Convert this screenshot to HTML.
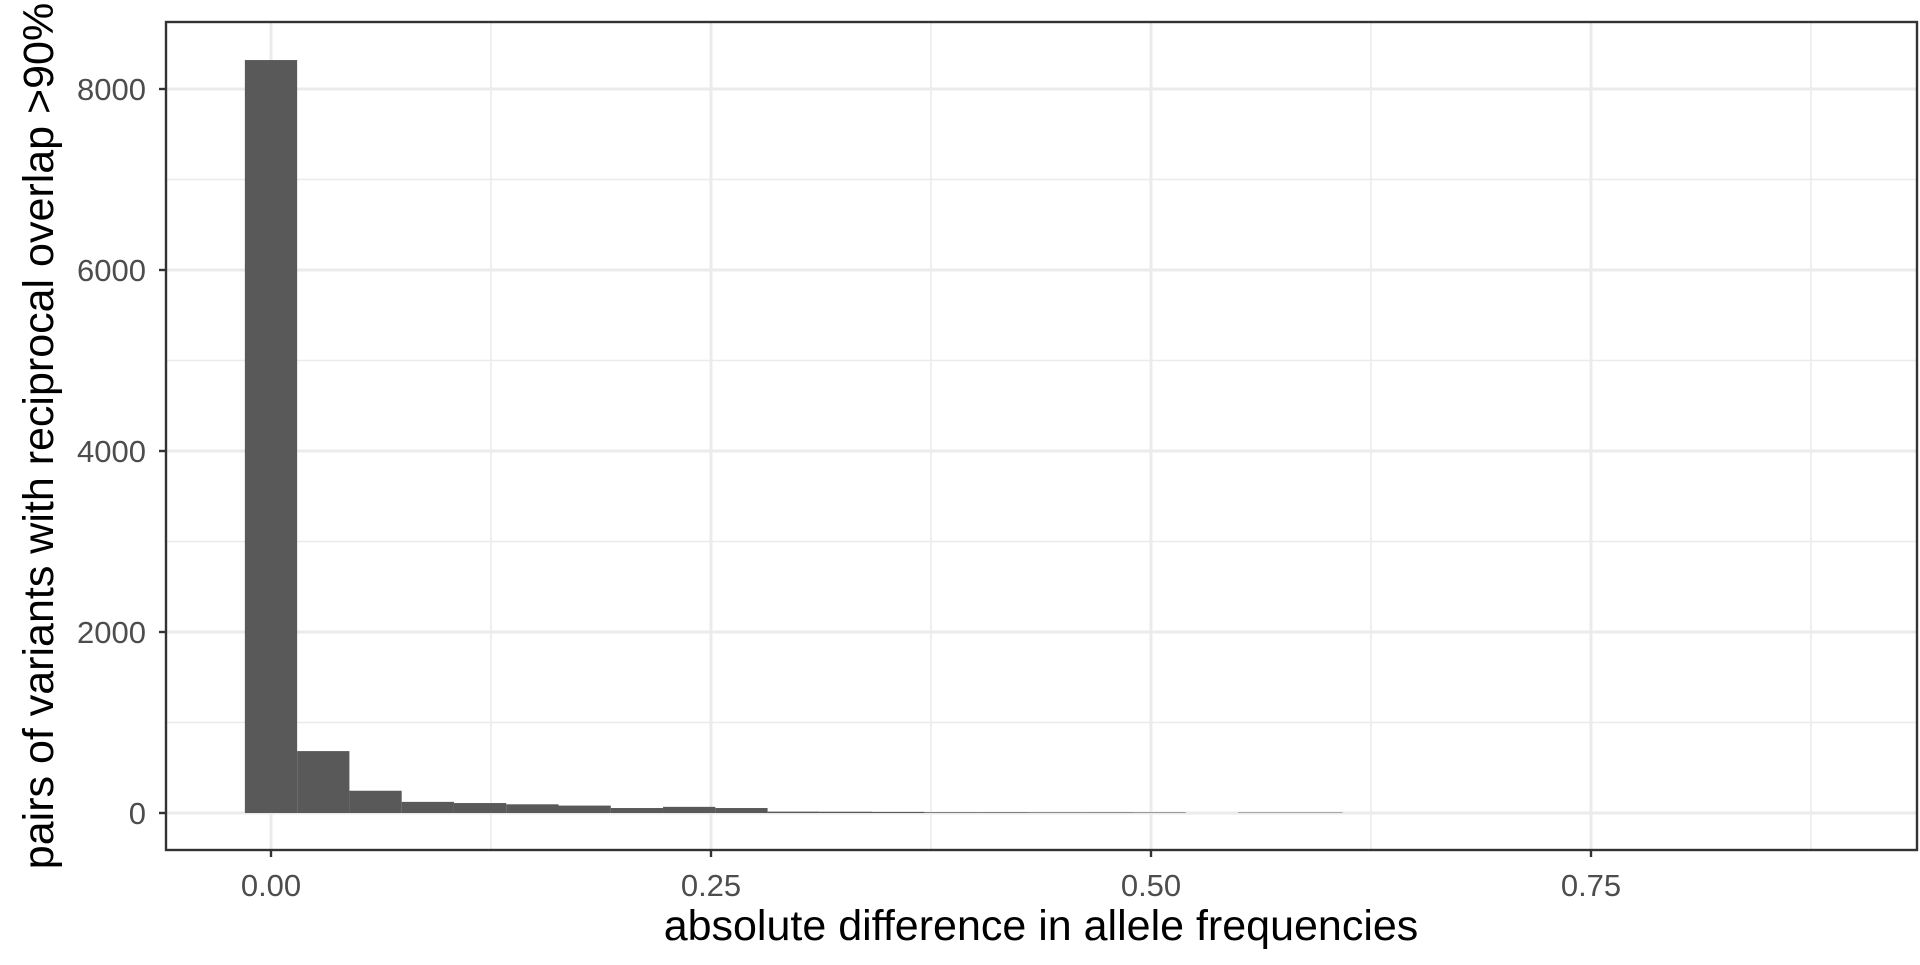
<!DOCTYPE html>
<html><head><meta charset="utf-8"><style>
html,body{margin:0;padding:0;background:#fff;}
svg text{font-family:"Liberation Sans",Arial,sans-serif;}
</style></head><body>
<svg id="chart" width="1920" height="960" viewBox="0 0 1920 960" xmlns="http://www.w3.org/2000/svg">
<g id="grid"></g><g id="bars"></g><g id="axes"></g>
<text x="1041" y="940" font-size="43" text-anchor="middle" fill="#000">absolute difference in allele frequencies</text>
<text transform="translate(53,436) rotate(-90)" font-size="43" text-anchor="middle" fill="#000">pairs of variants with reciprocal overlap &gt;90%</text>
</svg>
<script>
const binCenters = [0,0.0297,0.0594,0.0891,0.1188,0.1485,0.1782,0.2079,0.2376,0.2673,0.297,0.3267,0.3564,0.3861,0.4158,0.4455,0.4752,0.5049,0.5346,0.5643,0.594];
const counts = [8320,684,246,123,110,96,82,55,68,55,15,14,12,8,8,7,7,6,0,5,5];
const binWidth = 0.0297;
const xTicks = [0,0.25,0.5,0.75];
const xTickLabels = ["0.00","0.25","0.50","0.75"];
const yTicks = [0,2000,4000,6000,8000];
const yTickLabels = ["0","2000","4000","6000","8000"];

const PL=166,PR=1917,PT=22,PB=850;
const xs = v => 271 + v/0.25*440;
const ys = v => 813 - v/2000*181;
const NS="http://www.w3.org/2000/svg";
function mk(tag,attrs,parent){const e=document.createElementNS(NS,tag);for(const k in attrs)e.setAttribute(k,attrs[k]);parent.appendChild(e);return e;}
const grid=document.getElementById('grid'),bars=document.getElementById('bars'),axes=document.getElementById('axes');
mk('rect',{x:PL,y:PT,width:PR-PL,height:PB-PT,fill:'#fff'},grid);
for(let i=0;i<xTicks.length;i++){const m=xTicks[i]+0.125;const x=xs(m);if(x<PR){const l=mk('line',{x1:x,x2:x,y1:PT,y2:PB,stroke:'#ebebeb','stroke-width':1.6},grid);

}}
for(let i=0;i<yTicks.length;i++){const y=ys(yTicks[i]+1000);if(y>PT){const l=mk('line',{x1:PL,x2:PR,y1:y,y2:y,stroke:'#ebebeb','stroke-width':1.6},grid);

}}
xTicks.forEach(t=>{const x=xs(t);const l=mk('line',{x1:x,x2:x,y1:PT,y2:PB,stroke:'#ebebeb','stroke-width':3},grid);

});
yTicks.forEach(t=>{const y=ys(t);const l=mk('line',{x1:PL,x2:PR,y1:y,y2:y,stroke:'#ebebeb','stroke-width':3},grid);

});
binCenters.forEach((c,i)=>{if(counts[i]<=0)return;const x0=xs(c-binWidth/2),x1=xs(c+binWidth/2);const y=ys(counts[i]);
const r=mk('rect',{x:x0,y:y,width:x1-x0,height:ys(0)-y,fill:'#595959'},bars);

});
const b=mk('rect',{x:PL,y:PT,width:PR-PL,height:PB-PT,fill:'none',stroke:'#333','stroke-width':2.4},axes);


xTicks.forEach((t,i)=>{const x=xs(t);mk('line',{x1:x,x2:x,y1:PB,y2:PB+7,stroke:'#333','stroke-width':2.4},axes);
const tx=mk('text',{x:x,y:896,'font-size':31,'text-anchor':'middle',fill:'#4d4d4d'},axes);tx.textContent=xTickLabels[i];

});
yTicks.forEach((t,i)=>{const y=ys(t);mk('line',{x1:PL-7,x2:PL,y1:y,y2:y,stroke:'#333','stroke-width':2.4},axes);
const tx=mk('text',{x:146,y:y+11,'font-size':31,'text-anchor':'end',fill:'#4d4d4d'},axes);tx.textContent=yTickLabels[i];

});
</script>
</body></html>
